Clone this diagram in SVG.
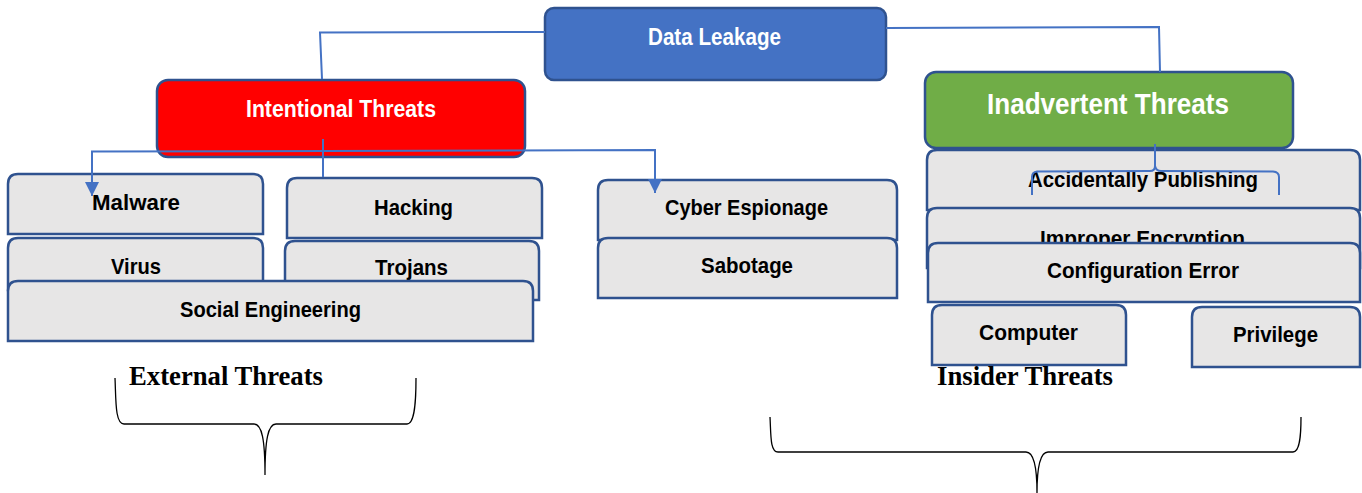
<svg xmlns="http://www.w3.org/2000/svg" width="1362" height="493" viewBox="0 0 1362 493">
  <style>
    .box { stroke: #2F528F; stroke-width: 2.5; }
    .gray { fill: #E7E6E6; }
    .lbl { font-family: "Liberation Sans", Arial, sans-serif; font-weight: bold; fill: #000; font-size: 22.5px; }
    .wlbl { font-family: "Liberation Sans", Arial, sans-serif; font-weight: bold; fill: #fff; }
    .cap { font-family: "Liberation Serif", "Times New Roman", serif; font-weight: bold; font-size: 26.5px; fill: #000; }
    .conn { fill: none; stroke: #4472C4; stroke-width: 2; }
    .brace { fill: none; stroke: #000; stroke-width: 1.3; }
  </style>
  <defs>
    <marker id="arrow" markerUnits="userSpaceOnUse" markerWidth="14" markerHeight="14" refX="14" refY="7" orient="auto">
      <path d="M0,0 L14,7 L0,14 Z" fill="#4472C4"/>
    </marker>
  </defs>

  <rect width="1362" height="493" fill="#fff"/>

  <!-- root -->
  <g id="data-leakage">
    <rect class="box" x="545" y="8" width="341" height="72" rx="9" fill="#4472C4"/>
    <text class="wlbl" x="648" y="45" font-size="23" textLength="133" lengthAdjust="spacingAndGlyphs">Data Leakage</text>
  </g>

  <!-- branch heads -->
  <g id="intentional-threats">
    <rect class="box" x="157" y="80" width="368" height="77" rx="11" fill="#FF0000"/>
    <text class="wlbl" x="246" y="117" font-size="23" textLength="190" lengthAdjust="spacingAndGlyphs">Intentional Threats</text>
  </g>
  <g id="inadvertent-threats">
    <rect class="box" x="925" y="72" width="368" height="76" rx="11" fill="#70AD47"/>
    <text class="wlbl" x="987" y="114" font-size="29" textLength="242" lengthAdjust="spacingAndGlyphs">Inadvertent Threats</text>
  </g>

  <!-- intentional leaves -->
  <g id="malware">
    <path class="box gray" d="M8,234 L8,184 Q8,174 18,174 L253,174 Q263,174 263,184 L263,234 Z"/>
    <text class="lbl" x="92" y="210" textLength="88" lengthAdjust="spacingAndGlyphs">Malware</text>
  </g>
  <g id="hacking">
    <path class="box gray" d="M287,238 L287,188 Q287,178 297,178 L532,178 Q542,178 542,188 L542,238 Z"/>
    <text class="lbl" x="374" y="215" textLength="79" lengthAdjust="spacingAndGlyphs">Hacking</text>
  </g>
  <g id="virus">
    <path class="box gray" d="M8,290 L8,248 Q8,238 18,238 L253,238 Q263,238 263,248 L263,290 Z"/>
    <text class="lbl" x="111" y="274" textLength="50" lengthAdjust="spacingAndGlyphs">Virus</text>
  </g>
  <g id="trojans">
    <path class="box gray" d="M285,300 L285,251 Q285,241 295,241 L529,241 Q539,241 539,251 L539,300 Z"/>
    <text class="lbl" x="375" y="275" textLength="73" lengthAdjust="spacingAndGlyphs">Trojans</text>
  </g>
  <g id="social-engineering">
    <path class="box gray" d="M8,341 L8,291 Q8,281 18,281 L523,281 Q533,281 533,291 L533,341 Z"/>
    <text class="lbl" x="180" y="317" textLength="181" lengthAdjust="spacingAndGlyphs">Social Engineering</text>
  </g>
  <g id="cyber-espionage">
    <path class="box gray" d="M598,240 L598,190 Q598,180 608,180 L887,180 Q897,180 897,190 L897,240 Z"/>
    <text class="lbl" x="665" y="215" textLength="163" lengthAdjust="spacingAndGlyphs">Cyber Espionage</text>
  </g>
  <g id="sabotage">
    <path class="box gray" d="M598,298 L598,248 Q598,238 608,238 L887,238 Q897,238 897,248 L897,298 Z"/>
    <text class="lbl" x="701" y="273" textLength="92" lengthAdjust="spacingAndGlyphs">Sabotage</text>
  </g>

  <!-- inadvertent leaves -->
  <g id="accidentally-publishing">
    <path class="box gray" d="M927,210 L927,160 Q927,150 937,150 L1350,150 Q1360,150 1360,160 L1360,210 Z"/>
    <text class="lbl" x="1028" y="187" textLength="230" lengthAdjust="spacingAndGlyphs">Accidentally Publishing</text>
  </g>
  <g id="improper-encryption">
    <path class="box gray" d="M927,268 L927,218 Q927,208 937,208 L1350,208 Q1360,208 1360,218 L1360,268 Z"/>
    <text class="lbl" x="1040" y="246" textLength="205" lengthAdjust="spacingAndGlyphs">Improper Encryption</text>
  </g>
  <g id="configuration-error">
    <path class="box gray" d="M928,302 L928,253 Q928,243 938,243 L1350,243 Q1360,243 1360,253 L1360,302 Z"/>
    <text class="lbl" x="1047" y="278" textLength="192" lengthAdjust="spacingAndGlyphs">Configuration Error</text>
  </g>
  <g id="computer">
    <path class="box gray" d="M932,365 L932,315 Q932,305 942,305 L1116,305 Q1126,305 1126,315 L1126,365 Z"/>
    <text class="lbl" x="979" y="340" textLength="99" lengthAdjust="spacingAndGlyphs">Computer</text>
  </g>
  <g id="privilege">
    <path class="box gray" d="M1192,367 L1192,317 Q1192,307 1202,307 L1350,307 Q1360,307 1360,317 L1360,367 Z"/>
    <text class="lbl" x="1233" y="342" textLength="85" lengthAdjust="spacingAndGlyphs">Privilege</text>
  </g>

  <!-- connectors -->
  <g id="connectors">
    <path class="conn" d="M545,32 L320,32.5 L322,79"/>
    <path class="conn" d="M886,28 L1159,27 L1160,72"/>
    <path class="conn" d="M323,139 L323,177"/>
    <path class="conn" d="M323,151 L92,151.5 L92,196" marker-end="url(#arrow)"/>
    <path class="conn" d="M323,151 L655,150 L655,193" marker-end="url(#arrow)"/>
    <path class="conn" stroke-width="1.5" d="M1155,144 L1155,166 Q1155,171 1150,171 L1037,171.5 Q1032,172 1032,177 L1032,195"/>
    <path class="conn" stroke-width="1.5" d="M1155,166 Q1156,171 1161,171 L1273,171.5 Q1279,172 1279,177 L1279,195"/>
  </g>

  <!-- group labels and braces -->
  <g id="external-threats">
    <text class="cap" x="129" y="385" textLength="194" lengthAdjust="spacingAndGlyphs">External Threats</text>
    <path class="brace" d="M115,378 C116,400 115,424 124,424 L254,424 C262,424 265,440 265,475 C265,440 268,424 276,424 L407,424 C415,424 416,400 416,378"/>
  </g>
  <g id="insider-threats">
    <text class="cap" x="937" y="385" textLength="176" lengthAdjust="spacingAndGlyphs">Insider Threats</text>
    <path class="brace" d="M770,417 C771,435 770,452 778,452 L1026,452 C1034,452 1037,468 1037,493 C1037,468 1040,452 1048,452 L1293,452 C1300,452 1301,435 1301,417"/>
  </g>
</svg>
